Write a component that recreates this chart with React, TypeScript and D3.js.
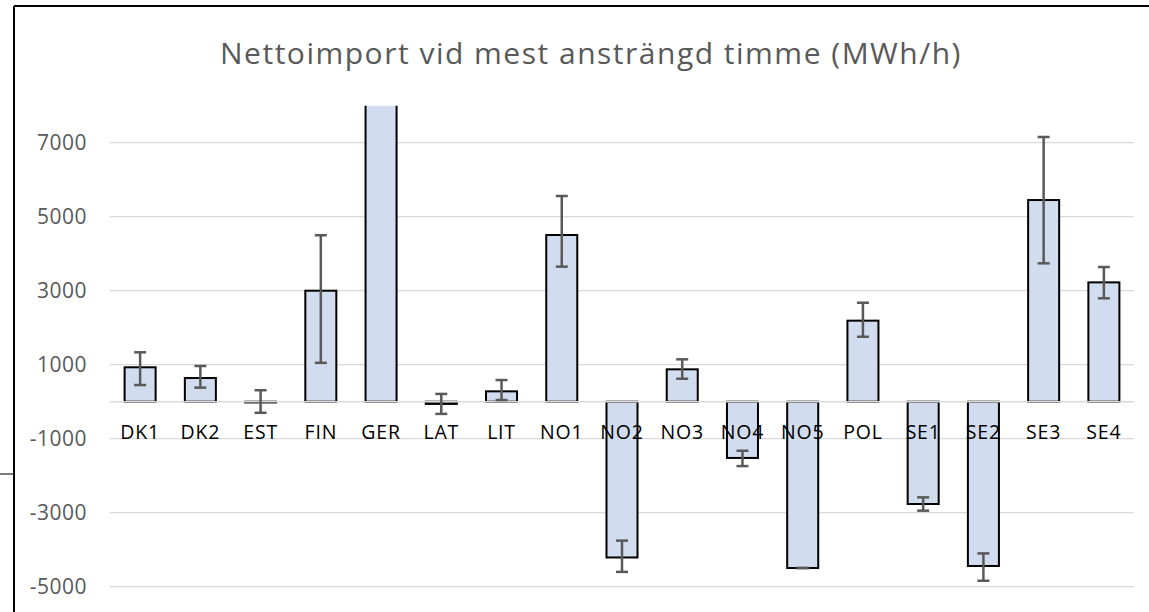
import React from "react";
import * as d3 from "d3";

const categories = ["DK1","DK2","EST","FIN","GER","LAT","LIT","NO1","NO2","NO3","NO4","NO5","POL","SE1","SE2","SE3","SE4"];
const values = [930, 640, -20, 3000, 9500, -60, 280, 4505, -4210, 875, -1520, -4495, 2190, -2765, -4440, 5450, 3225];
const errLow = [450, 380, -300, 1050, 9500, -330, 45, 3650, -4600, 620, -1740, -4495, 1755, -2945, -4840, 3740, 2795];
const errHigh = [1335, 965, 310, 4500, 9500, 210, 585, 5560, -3755, 1145, -1325, -4495, 2675, -2585, -4100, 7155, 3640];
const tickValues = [-5000, -3000, -1000, 1000, 3000, 5000, 7000];
const title = "Nettoimport vid mest ansträngd timme (MWh/h)";

const W = 1149, H = 612;
const plotLeft = 110, plotRight = 1134;
const FONT = "'Open Sans', sans-serif";

export default function App() {
  const x = d3.scaleBand<string>().domain(categories).range([plotLeft, plotRight]).padding(0);
  const y = d3.scaleLinear().domain([-5000, 8000]).range([586.7, 105.7]);
  const bw = x.step() * 0.515;
  const capW = 12;
  const y0 = y(0);
  return (
    <svg width={W} height={H} style={{ position: "absolute", left: 0, top: 0, background: "#fff" }}>
      <defs>
        <clipPath id="plotclip">
          <rect x={plotLeft} y={y(8000)} width={plotRight - plotLeft} height={H} />
        </clipPath>
      </defs>
      <rect x={0} y={0} width={W} height={H} fill="#fff" />
      <line x1={14} y1={6} x2={W} y2={6} stroke="#000" strokeWidth={2} />
      <line x1={14} y1={6} x2={14} y2={H} stroke="#000" strokeWidth={2} />
      <line x1={0} y1={474} x2={14} y2={474} stroke="#333" strokeWidth={1.3} />
      <text x={591} y={64} textAnchor="middle" fontFamily={FONT} fontSize={30} letterSpacing={1.5} fill="#595959">{title}</text>
      {tickValues.map((t) => (
        <g key={t}>
          <line x1={plotLeft} x2={plotRight} y1={y(t)} y2={y(t)} stroke="#d9d9d9" strokeWidth={1.3} />
          <text x={87} y={y(t)} dy="0.36em" textAnchor="end" fontFamily={FONT} fontSize={21} letterSpacing={0.5} fill="#595959">{t}</text>
        </g>
      ))}
      <g clipPath="url(#plotclip)">
        {categories.map((c, i) => {
          const cx = (x(c) as number) + x.step() / 2;
          const v = values[i];
          const top = Math.min(y(v), y0);
          const h = Math.abs(y(v) - y0);
          return (
            <rect key={c} x={cx - bw / 2} y={top} width={bw} height={h} fill="#D1DDEE" stroke="#000" strokeWidth={2} />
          );
        })}
      </g>
      <line x1={plotLeft} x2={plotRight} y1={y0} y2={y0} stroke="#d9d9d9" strokeWidth={1.5} />
      <g clipPath="url(#plotclip)">
        {categories.map((c, i) => {
          const cx = (x(c) as number) + x.step() / 2;
          const lo = y(errLow[i]);
          const hi = y(errHigh[i]);
          return (
            <g key={c} stroke="#595959" strokeWidth={2.5}>
              <line x1={cx} x2={cx} y1={hi} y2={lo} />
              <line x1={cx - capW / 2} x2={cx + capW / 2} y1={hi} y2={hi} />
              <line x1={cx - capW / 2} x2={cx + capW / 2} y1={lo} y2={lo} />
            </g>
          );
        })}
      </g>
      {categories.map((c) => (
        <text key={c} x={(x(c) as number) + x.step() / 2} y={439} textAnchor="middle" fontFamily={FONT} fontSize={19.5} letterSpacing={0.8} fill="#000">{c}</text>
      ))}
    </svg>
  );
}
